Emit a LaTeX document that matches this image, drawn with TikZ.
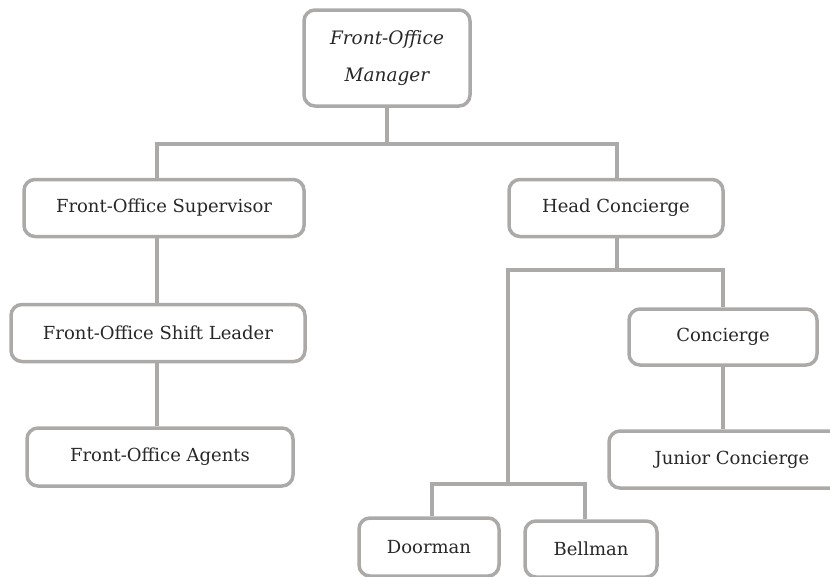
\documentclass[tikz,border=0pt]{standalone}
\usepackage{fontspec}
\setmainfont{DejaVu Serif}
\usetikzlibrary{backgrounds}
\definecolor{linegray}{RGB}{172,170,168}
\definecolor{txt}{RGB}{40,40,40}
\begin{document}
\begin{tikzpicture}[x=1pt,y=-1pt,
  box/.style={draw=linegray,line width=3.5pt,rounded corners=11pt,fill=white,
    text=txt,font=\fontsize{18}{20}\selectfont,inner sep=0pt},
  conn/.style={draw=linegray,line width=3.5pt}]
\useasboundingbox (0,0) rectangle (830,576);
\begin{scope}
\clip (0,0) rectangle (830,576);
\node[box,minimum width=166pt,minimum height=96pt,align=center,
  font=\fontsize{18.5}{37}\selectfont\itshape] (mgr) at (387,58) {Front-Office\\Manager};
\node[box,minimum width=280pt,minimum height=57pt] (sup) at (164,208) {Front-Office Supervisor};
\node[box,minimum width=214pt,minimum height=57pt] (head) at (616,208) {Head Concierge};
\node[box,minimum width=294pt,minimum height=57pt] (shift) at (158,333) {Front-Office Shift Leader};
\node[box,minimum width=266pt,minimum height=58pt] (agents) at (160,457) {Front-Office Agents};
\node[box,minimum width=188pt,minimum height=56pt] (conc) at (723,337) {Concierge};
\node[box,minimum width=246pt,minimum height=57pt] (junior) at (732,459.5) {Junior Concierge};
\node[box,minimum width=140pt,minimum height=58pt] (door) at (429,547) {Doorman};
\node[box,minimum width=132pt,minimum height=56pt] (bell) at (591,549) {Bellman};
\end{scope}
\coordinate (m1) at (387,144);
\coordinate (h1) at (617,270);
\coordinate (d1) at (508,484);
\begin{scope}[on background layer]
\draw[conn] (mgr.south) -- (m1);
\draw[conn] (sup.north -| 157,0) |- (m1) -| (head.north -| 617,0);
\draw[conn] (sup.south -| 157,0) -- (shift.north -| 157,0);
\draw[conn] (shift.south -| 157,0) -- (agents.north -| 157,0);
\draw[conn] (head.south -| 617,0) -- (h1);
\draw[conn] (d1) |- (h1) -| (conc.north);
\draw[conn] (conc.south) -- (junior.north -| conc.south);
\draw[conn] (door.north -| 432,0) |- (d1) -| (bell.north -| 585,0);
\end{scope}
\end{tikzpicture}
\end{document}
